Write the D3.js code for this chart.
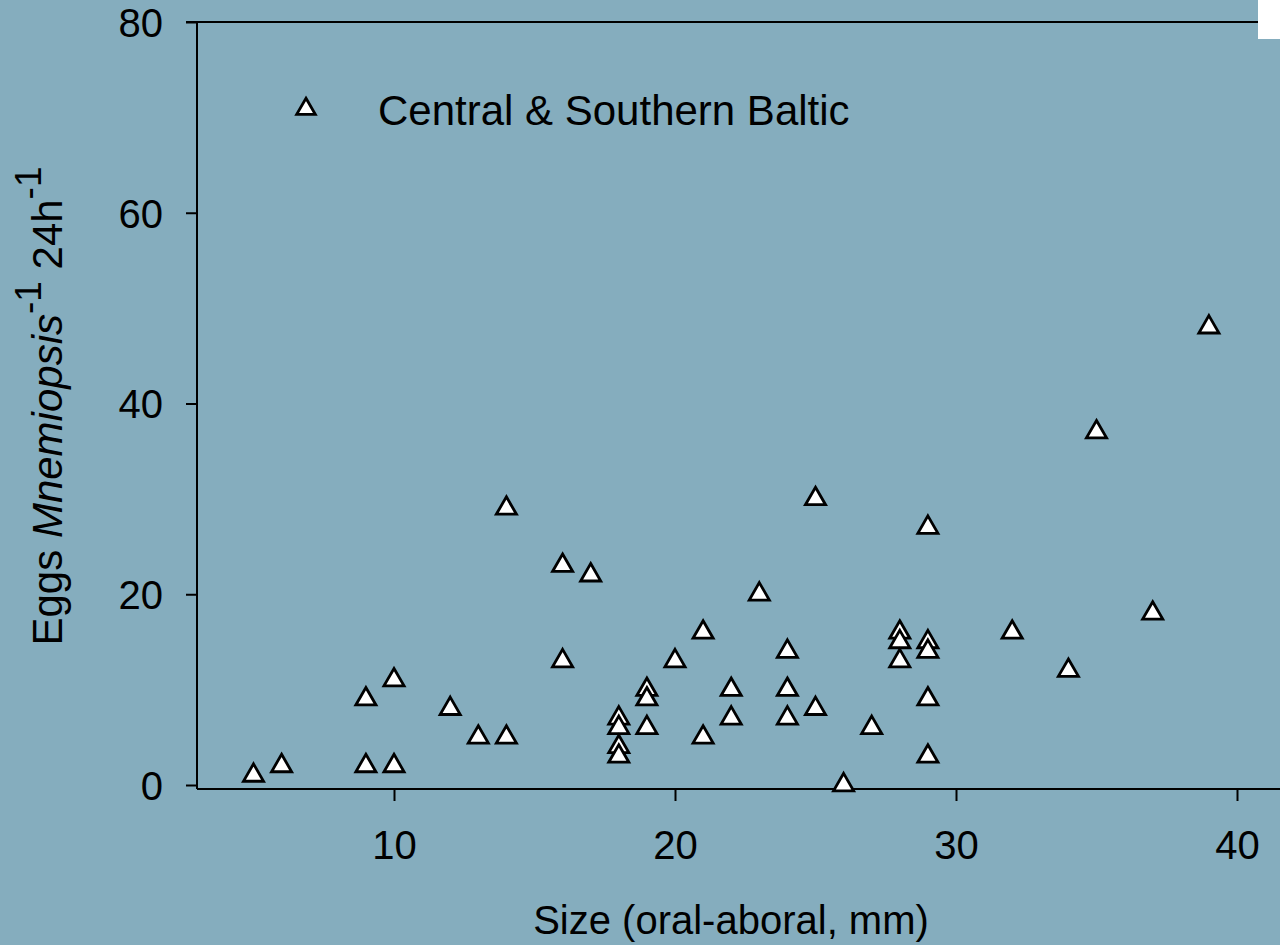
<!DOCTYPE html>
<html>
<head>
<meta charset="utf-8">
<script src="https://cdn.jsdelivr.net/npm/d3@7"></script>
<style>
  html, body { margin: 0; padding: 0; background: #85adbe; }
  svg { display: block; }
  text { font-family: "Liberation Sans", Arial, sans-serif; fill: #000; }
</style>
</head>
<body>
<svg id="chart" width="1280" height="945"></svg>
<script>
// Size (oral-aboral length, mm) and egg production per individual per 24 h
const sizes = [5, 6, 9, 9, 10, 10, 12, 13, 14, 14, 16, 16, 17, 18, 18, 18, 18, 19, 19, 19, 20, 21, 21, 22, 22, 23, 24, 24, 24, 25, 25, 26, 27, 28, 28, 28, 29, 29, 29, 29, 29, 32, 34, 35, 37, 39];
const eggs  = [1, 2, 9, 2, 11, 2, 8, 5, 5, 29, 23, 13, 22, 7, 6, 4, 3, 10, 9, 6, 13, 16, 5, 10, 7, 20, 14, 10, 7, 30, 8, 0, 6, 16, 15, 13, 27, 15, 14, 9, 3, 16, 12, 37, 18, 48];
const xTicks = [10, 20, 30, 40];
const yTicks = [0, 20, 40, 60, 80];
const seriesName = "Central & Southern Baltic";

const svg = d3.select("#chart");
const W = 1280, H = 945;
const FONT = 40;

svg.append("rect").attr("width", W).attr("height", H).attr("fill", "#85adbe");

const x = d3.scaleLinear().domain([0, 40]).range([113, 1237]);
const y = d3.scaleLinear().domain([0, 80]).range([785, 22]);

const axisLeftX = 197;
const axisBottomY = 789;

// Y axis
const yAxis = svg.append("g")
  .attr("transform", `translate(${axisLeftX},0)`)
  .call(d3.axisLeft(y).tickValues(yTicks).tickSize(11).tickPadding(23).tickFormat(d3.format("d")));
yAxis.select(".domain").remove();
yAxis.selectAll(".tick line").attr("stroke", "#000").attr("stroke-width", 2);
yAxis.selectAll(".tick text").attr("font-size", FONT).attr("font-family", "Liberation Sans, Arial, sans-serif").attr("dy", "0.36em");
svg.append("line")
  .attr("x1", axisLeftX).attr("x2", axisLeftX)
  .attr("y1", y(80)).attr("y2", axisBottomY)
  .attr("stroke", "#000").attr("stroke-width", 2);

// Top frame line
svg.append("line")
  .attr("x1", 186).attr("x2", 1258)
  .attr("y1", y(80)).attr("y2", y(80))
  .attr("stroke", "#000").attr("stroke-width", 2);

// X axis
const xAxis = svg.append("g")
  .attr("transform", `translate(0,${axisBottomY})`)
  .call(d3.axisBottom(x).tickValues(xTicks).tickSize(12).tickPadding(30).tickFormat(d3.format("d")));
xAxis.select(".domain").remove();
xAxis.selectAll(".tick line").attr("stroke", "#000").attr("stroke-width", 2);
xAxis.selectAll(".tick text").attr("font-size", FONT).attr("font-family", "Liberation Sans, Arial, sans-serif");
svg.append("line")
  .attr("x1", axisLeftX).attr("x2", W)
  .attr("y1", axisBottomY).attr("y2", axisBottomY)
  .attr("stroke", "#000").attr("stroke-width", 2);

// Points
const tri = d3.symbol().type(d3.symbolTriangle).size(175);
const pts = sizes.map((s, i) => ({ s, e: eggs[i] }));
svg.append("g").selectAll("path")
  .data(pts)
  .join("path")
  .attr("d", tri)
  .attr("transform", d => `translate(${x(d.s)},${y(d.e)})`)
  .attr("fill", "#fff")
  .attr("stroke", "#000")
  .attr("stroke-width", 2.8)
  .attr("stroke-linejoin", "miter");

// Legend
const legendTri = d3.symbol().type(d3.symbolTriangle).size(150);
const legend = svg.append("g").attr("transform", "translate(306,109)");
legend.append("path").attr("d", legendTri)
  .attr("fill", "#fff").attr("stroke", "#000").attr("stroke-width", 2.8);
legend.append("text")
  .attr("x", 72).attr("y", 16)
  .attr("font-size", 42)
  .text(seriesName);

// Axis titles
svg.append("text")
  .attr("x", 731).attr("y", 934)
  .attr("text-anchor", "middle")
  .attr("font-size", FONT)
  .text("Size (oral-aboral, mm)");

const yt = svg.append("text")
  .attr("transform", "translate(62,406) rotate(-90)")
  .attr("text-anchor", "middle")
  .attr("font-size", 42);
yt.append("tspan").text("Eggs ");
yt.append("tspan").attr("font-style", "italic").text("Mnemiopsis");
yt.append("tspan").attr("font-size", 37).attr("dy", -21).text("-1");
yt.append("tspan").attr("dy", 21).text(" 24h");
yt.append("tspan").attr("font-size", 37).attr("dy", -21).text("-1");

// Corner tag
svg.append("rect").attr("x", 1258).attr("y", 0).attr("width", 22).attr("height", 39).attr("fill", "#fff");
</script>
</body>
</html>
